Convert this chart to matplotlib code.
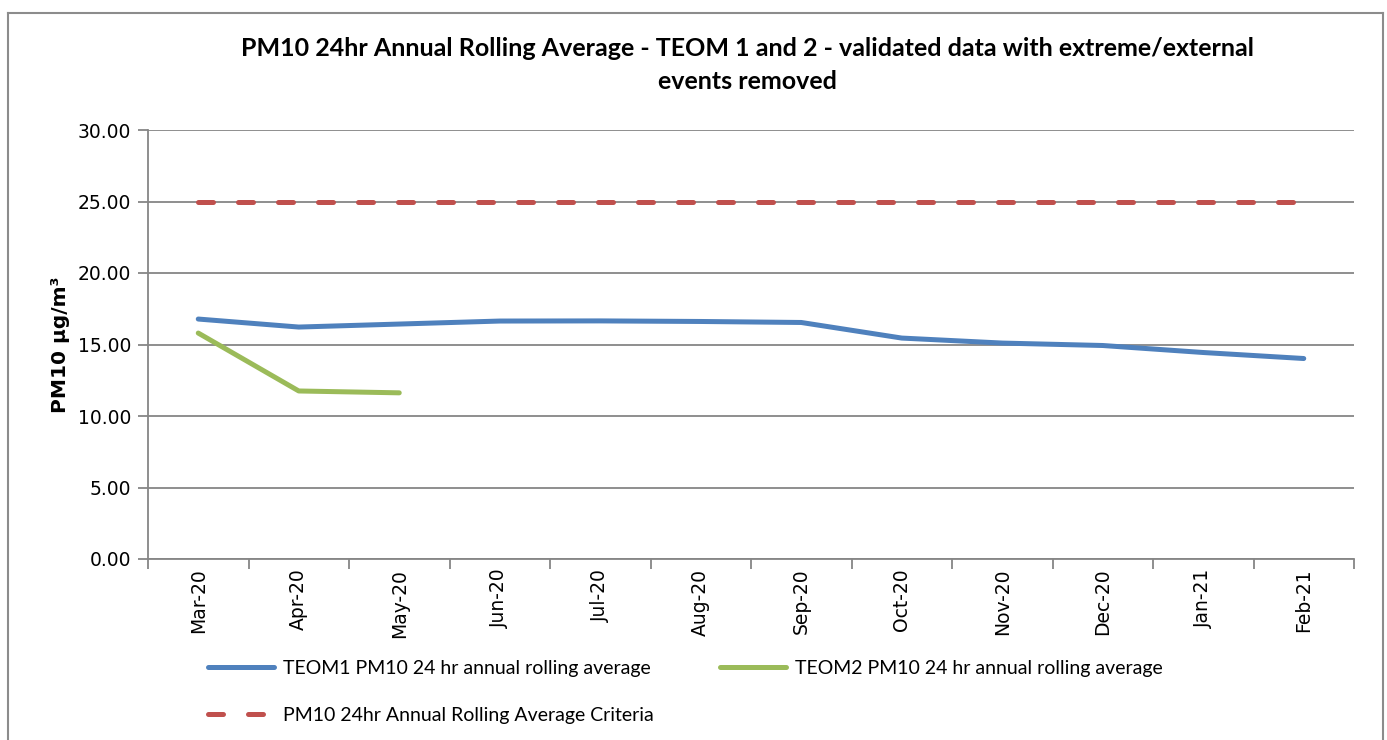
import matplotlib.pyplot as plt
from matplotlib.lines import Line2D

# data
months = ["Mar-20", "Apr-20", "May-20", "Jun-20", "Jul-20", "Aug-20",
          "Sep-20", "Oct-20", "Nov-20", "Dec-20", "Jan-21", "Feb-21"]
teom1 = [16.78, 16.22, 16.43, 16.64, 16.65, 16.61, 16.54, 15.45, 15.10, 14.93, 14.44, 14.02]
teom2 = [15.80, 11.75, 11.62]
criteria = [25.0] * 12

narrow = ["Lato", "DejaVu Sans"]

fig = plt.figure(figsize=(13.87, 7.40), dpi=100)
ax = fig.add_axes([148 / 1387, 1 - 559 / 740, (1354 - 148) / 1387, (559 - 130) / 740])

x = list(range(len(months)))
ax.plot(x, criteria, color="#C0504D", linewidth=3.6, linestyle=(0, (3, 5)),
        dash_capstyle="round", label="PM10 24hr Annual Rolling Average Criteria", zorder=3)
ax.plot(x, teom1, color="#4F81BD", linewidth=3.6, solid_capstyle="round",
        solid_joinstyle="round", label="TEOM1 PM10 24 hr annual rolling average", zorder=4)
ax.plot(x[:len(teom2)], teom2, color="#9BBB59", linewidth=3.6, solid_capstyle="round",
        solid_joinstyle="round", label="TEOM2 PM10 24 hr annual rolling average", zorder=4)

ax.set_xlim(-0.5, len(months) - 0.5)
ax.set_ylim(0, 30)
ax.set_yticks([0, 5, 10, 15, 20, 25, 30])
ax.set_yticklabels([f"{v:.2f}" for v in [0, 5, 10, 15, 20, 25, 30]],
                   fontsize=13.5, family="DejaVu Sans")
ax.set_xticks(x)
ax.set_xticklabels(months, rotation=90, fontsize=13.5, family="DejaVu Sans")
ax.set_xticks([i - 0.5 for i in range(len(months) + 1)], minor=True)
ax.tick_params(axis="x", which="major", length=0, pad=7)
ax.tick_params(axis="x", which="minor", length=7, color="#868686", width=1.3)
ax.tick_params(axis="y", length=7, color="#868686", width=1.3, pad=5)

ax.grid(axis="y", color="#868686", linewidth=1.3)
ax.set_axisbelow(True)
for s in ["top", "right"]:
    ax.spines[s].set_visible(False)
for s in ["left", "bottom"]:
    ax.spines[s].set_color("#868686")
    ax.spines[s].set_linewidth(1.3)

ax.set_ylabel("PM10 µg/m³", fontsize=14.5, fontweight="bold", family="DejaVu Sans", labelpad=6)

fig.text(0.539, 1 - 65 / 740,
         "PM10 24hr Annual Rolling Average - TEOM 1 and 2 - validated data with extreme/external\nevents removed",
         ha="center", va="center", fontsize=18, fontweight="bold", family=narrow,
         linespacing=1.5)

h1 = Line2D([], [], color="#4F81BD", linewidth=3.6, solid_capstyle="round")
h2 = Line2D([], [], color="#9BBB59", linewidth=3.6, solid_capstyle="round")
h3 = Line2D([], [], color="#C0504D", linewidth=3.6, linestyle=(0, (3, 5)), dash_capstyle="round")
fig.legend([h1, h3, h2],
           ["TEOM1 PM10 24 hr annual rolling average",
            "PM10 24hr Annual Rolling Average Criteria",
            "TEOM2 PM10 24 hr annual rolling average"],
           ncol=2, loc="upper left", bbox_to_anchor=(208 / 1387, 1 - 660 / 740),
           frameon=False, prop={"family": narrow, "size": 14},
           handlelength=3.4, handletextpad=0.45, labelspacing=1.55, columnspacing=3.4,
           borderaxespad=0, borderpad=0)

# outer chart frame
for xs, ys in [([8, 8], [13, 740]), ([1383, 1383], [13, 740]), ([8, 1383], [13, 13])]:
    fig.add_artist(Line2D([v / 1387 for v in xs], [1 - v / 740 for v in ys],
                          color="#8c8c8c", linewidth=1.5, transform=fig.transFigure))

fig.savefig("out.png", dpi=100)
